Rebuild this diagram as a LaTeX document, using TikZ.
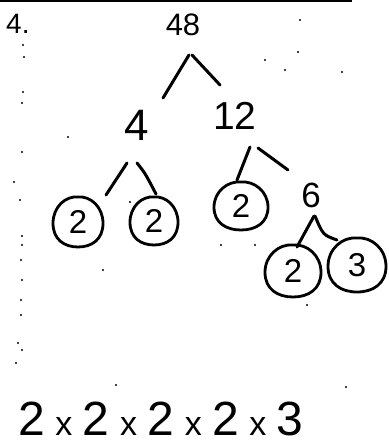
\documentclass[tikz,border=0pt]{standalone}
\usepackage{fontspec}
\setmainfont{Liberation Sans}
\usetikzlibrary{calc}
\newcommand{\blobat}[3]{%
  \draw[blobline, shift={(#1)}] (0,-#3)
    .. controls (-0.5*#2,-1.05*#3) and (-#2,-0.6*#3) .. (-#2,0.05*#3)
    .. controls (-#2,0.7*#3) and (-0.55*#2,#3) .. (0,#3)
    .. controls (0.55*#2,#3) and (#2,0.7*#3) .. (#2,0.05*#3)
    .. controls (#2,-0.6*#3) and (0.5*#2,-1.05*#3) .. cycle;}
\begin{document}
\begin{tikzpicture}[x=1pt,y=-1pt,
  num/.style={inner sep=0pt, font=\fontsize{#1}{#1}\selectfont},
  num/.default=30,
  branch/.style={line width=3pt, line cap=round},
  blobline/.style={line width=2.8pt, line join=round},
  speck/.style={fill=black}
]
\useasboundingbox (0,0) rectangle (388,444);
% top border
\draw[line width=1.8pt] (0,1) -- (352,1);
% labels and numbers
\node[num=28, anchor=base west] (lbl) at (6,34) {4.};
\node[num=31] (n48) at (183,25) {48};
\node[num=44] (n4) at (137,125) {4};
\node[num=39] (n12) at (235,116) {12};
\node[num=35] (n6) at (311,195) {6};
\node[num=33] (c1) at (78,222) {2};
\node[num=33] (c2) at (154,221) {2};
\node[num=33] (c3) at (241,206) {2};
\node[num=33] (c4) at (293,271) {2};
\node[num=33] (c5) at (357,265) {3};
% blobs
\blobat{c1}{25}{25}
\blobat{c2}{24}{24}
\blobat{c3}{27}{24}
\blobat{c4}{28}{26}
\blobat{c5}{29}{27}
% branches
\draw[branch] ($(n48)+(6,30)$) -- ($(n4)+(26,-27)$);
\draw[branch] ($(n48)+(9,30)$) -- ($(n12)+(-15,-31)$);
\draw[branch] ($(n4)+(-10,38)$) -- ($(c1)+(28,-27)$);
\draw[branch] ($(n4)+(0,38)$) .. controls ($(n4)+(8,48)$) .. ($(c2)+(2,-27)$);
\draw[branch] ($(n12)+(15,31)$) -- ($(c3)+(-4,-26)$);
\draw[branch] ($(n12)+(23,32)$) -- ($(n6)+(-23,-25)$);
\draw[branch] ($(n6)+(3,21)$) -- ($(c4)+(4,-24)$);
\draw[branch] ($(n6)+(4,21)$) .. controls ($(n6)+(12,40)$) .. ($(c5)+(-20,-25)$);
% product
\node[anchor=base west, inner sep=0pt] (prod) at (18,435) {\fontsize{48}{48}\selectfont
  2\hspace{10.5pt}{\fontsize{34}{34}\selectfont x}\hspace{10.5pt}2\hspace{10.5pt}{\fontsize{34}{34}\selectfont x}\hspace{10.5pt}2\hspace{10.5pt}{\fontsize{34}{34}\selectfont x}\hspace{10.5pt}2\hspace{10.5pt}{\fontsize{34}{34}\selectfont x}\hspace{10.5pt}3};
% scan specks
\foreach \p in {(23,45),(24,57),(23,92),(22,103),(22,152),(14,182),(20,200),(22,236),(22,245),(21,260),(22,280),(21,300),(21,315),(18,343),(22,350),(16,363),
  (300,20),(298,52),(265,60),(285,70),(342,72),(68,137),(130,202),(103,270),(255,245),(221,245),(307,305),(116,385),(346,387)}
  \fill[speck] \p circle (1.1);
\end{tikzpicture}
\end{document}
